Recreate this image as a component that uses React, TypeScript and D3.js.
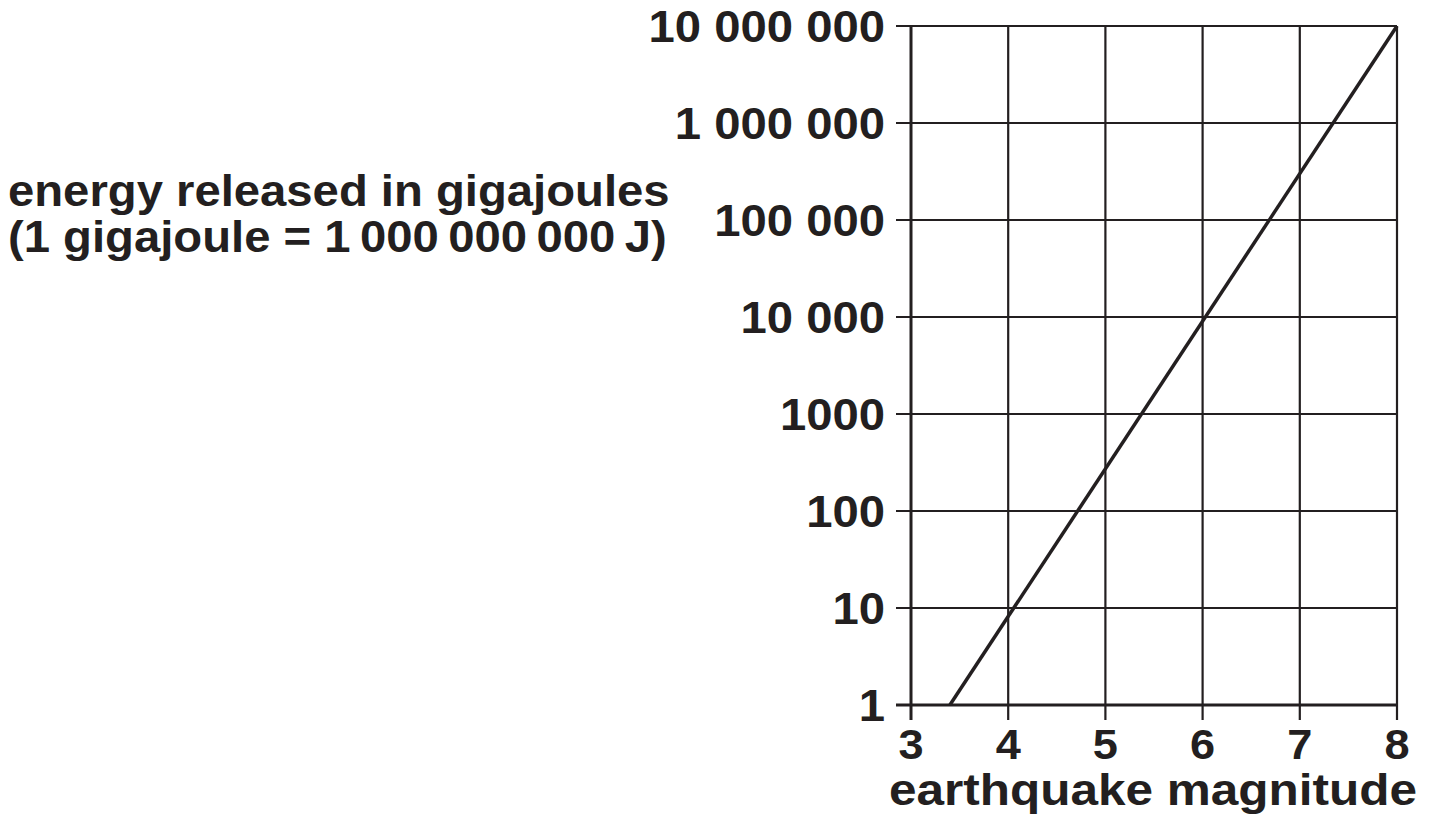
import { useEffect, useRef } from 'react'
import * as d3 from 'd3'

const MAGNITUDES = [3, 4, 5, 6, 7, 8]
const ENERGY_TICKS = [1, 10, 100, 1000, 10000, 100000, 1000000, 10000000]
const ENERGY_LABELS = ['1', '10', '100', '1000', '10 000', '100 000', '1 000 000', '10 000 000']
const LINE_MAG = [3.4, 8]
const LINE_ENERGY = [1, 10000000]

const W = 1429
const H = 816
const INK = '#231f20'
const FONT = '"Liberation Sans", Arial, Helvetica, sans-serif'

export default function App() {
  const svgRef = useRef<SVGSVGElement>(null)

  useEffect(() => {
    const svg = d3.select(svgRef.current!)
    svg.selectAll('*').remove()

    const left = 911, right = 1397, top = 26, bottom = 705
    const x = d3.scaleLinear().domain([3, 8]).range([left, right])
    const y = d3.scaleLog().domain([1, 10000000]).range([bottom, top])

    const g = svg.append('g')

    // grid
    g.selectAll('line.vg').data(MAGNITUDES.slice(1)).join('line')
      .attr('x1', d => x(d)).attr('x2', d => x(d)).attr('y1', top).attr('y2', bottom + 15)
      .attr('stroke', INK).attr('stroke-width', 2.2)
    g.selectAll('line.hg').data(ENERGY_TICKS.slice(1)).join('line')
      .attr('x1', left - 15).attr('x2', right).attr('y1', d => y(d)).attr('y2', d => y(d))
      .attr('stroke', INK).attr('stroke-width', 2.2)

    // axes
    g.append('line').attr('x1', left).attr('x2', left).attr('y1', top).attr('y2', bottom + 15)
      .attr('stroke', INK).attr('stroke-width', 3)
    g.append('line').attr('x1', left - 15).attr('x2', right).attr('y1', bottom).attr('y2', bottom)
      .attr('stroke', INK).attr('stroke-width', 3)

    // data line
    const line = d3.line<number>().x(d => x(LINE_MAG[d])).y(d => y(LINE_ENERGY[d]))
    g.append('path').attr('d', line(d3.range(LINE_MAG.length)))
      .attr('fill', 'none').attr('stroke', INK).attr('stroke-width', 3.5)

    const txt = (sel: d3.Selection<SVGTextElement, any, any, any>, size: number) =>
      sel.attr('font-family', FONT).attr('font-weight', 700).attr('font-size', size).attr('fill', INK)

    // y tick labels (slightly widened like the printed face)
    const yl = g.append('g')
    ENERGY_TICKS.forEach((d, i) => {
      txt(yl.append('text')
        .attr('transform', `translate(${left - 26},${y(d)}) scale(1.05,1)`)
        .attr('dy', '0.36em').attr('text-anchor', 'end')
        .text(ENERGY_LABELS[i]), 45)
    })

    // x tick labels
    MAGNITUDES.forEach(d => {
      txt(g.append('text')
        .attr('transform', `translate(${x(d)},759) scale(1.05,1)`)
        .attr('text-anchor', 'middle').text(String(d)), 43)
    })

    txt(g.append('text')
      .attr('transform', `translate(${(left + right) / 2 - 1},805) scale(1.1,1)`)
      .attr('text-anchor', 'middle')
      .text('earthquake magnitude'), 45)

    const yt = txt(g.append('text').attr('transform', 'translate(8,0) scale(1.05,1)'), 45)
    yt.append('tspan').attr('x', 0).attr('y', 206).text('energy released in gigajoules')
    yt.append('tspan').attr('x', 0).attr('y', 252).text('(1 gigajoule = 1\u2009000\u2009000\u2009000\u2009J)')
  }, [])

  return (
    <svg ref={svgRef} width={W} height={H}
      style={{ position: 'absolute', left: 0, top: 0, background: '#fff' }} />
  )
}
